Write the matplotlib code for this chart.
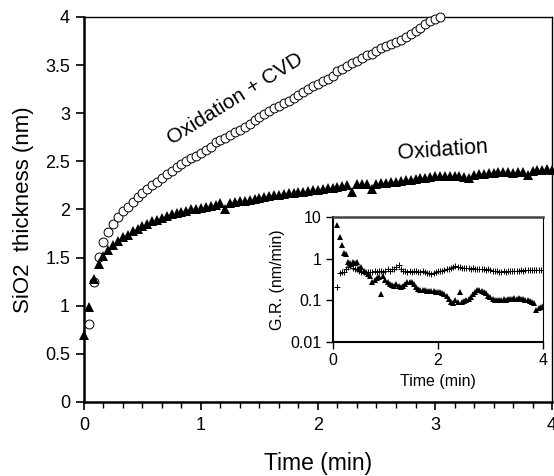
"""SiO2 thickness vs time: oxidation and oxidation + CVD, with growth-rate inset."""

import matplotlib
matplotlib.use('Agg')

import matplotlib.pyplot as plt
import matplotlib.ticker as ticker
import numpy as np

plt.rcParams['font.family'] = ['Liberation Sans', 'DejaVu Sans']

# ── Data (one sample every 2.5 s) ────────────────────────────────────────────
SAMPLE_S = 2.5

OXIDATION_NM = [
    0.70, 0.99, 1.28, 1.43, 1.52, 1.58, 1.63, 1.67, 1.71, 1.74,
    1.78, 1.80, 1.83, 1.85, 1.88, 1.89, 1.91, 1.93, 1.95, 1.96,
    1.97, 1.98, 2.00, 2.01, 2.02, 2.03, 2.04, 2.05, 2.07, 2.01,
    2.07, 2.08, 2.09, 2.09, 2.10, 2.11, 2.12, 2.13, 2.14, 2.15,
    2.15, 2.16, 2.17, 2.17, 2.18, 2.18, 2.19, 2.20, 2.20, 2.21,
    2.22, 2.22, 2.23, 2.24, 2.25, 2.18, 2.27, 2.27, 2.26, 2.21,
    2.27, 2.28, 2.28, 2.29, 2.29, 2.30, 2.31, 2.31, 2.32, 2.33,
    2.33, 2.34, 2.35, 2.35, 2.35, 2.35, 2.35, 2.35, 2.34, 2.33,
    2.36, 2.37, 2.37, 2.38, 2.38, 2.39, 2.39, 2.39, 2.38, 2.39,
    2.39, 2.36, 2.40, 2.41, 2.41, 2.42, 2.41,
]

# starts one sample later than the oxidation run
OXCVD_NM = [
    0.81, 1.25, 1.51, 1.66, 1.77, 1.85, 1.92, 1.98, 2.03, 2.08,
    2.13, 2.17, 2.21, 2.25, 2.29, 2.33, 2.37, 2.40, 2.44, 2.47,
    2.50, 2.53, 2.56, 2.59, 2.62, 2.65, 2.70, 2.72, 2.74, 2.77,
    2.80, 2.83, 2.86, 2.89, 2.93, 2.96, 2.99, 3.02, 3.05, 3.08,
    3.11, 3.13, 3.16, 3.19, 3.22, 3.25, 3.28, 3.30, 3.33, 3.36,
    3.39, 3.44, 3.46, 3.49, 3.52, 3.54, 3.57, 3.60, 3.62, 3.65,
    3.68, 3.70, 3.72, 3.74, 3.76, 3.79, 3.82, 3.85, 3.89, 3.93,
    3.96, 3.98, 4.00,
]

# growth rates (nm/min), starting at the third sample
GR_OXIDATION = [
    6.4, 3.3, 2.1, 1.4, 1.3, 0.85, 0.80, 0.85, 0.80, 0.82,
    0.60, 0.62, 0.50, 0.47, 0.42, 0.38, 0.28, 0.30, 0.34, 0.36,
    0.14, 0.38, 0.30, 0.27, 0.25, 0.23, 0.22, 0.24, 0.22, 0.21,
    0.22, 0.25, 0.27, 0.28, 0.27, 0.24, 0.21, 0.19, 0.18, 0.18,
    0.175, 0.17, 0.17, 0.165, 0.165, 0.16, 0.16, 0.155, 0.15, 0.14,
    0.13, 0.11, 0.09, 0.085, 0.10, 0.09, 0.16, 0.09, 0.095, 0.10,
    0.11, 0.12, 0.14, 0.16, 0.18, 0.18, 0.17, 0.16, 0.15, 0.13,
    0.12, 0.11, 0.10, 0.10, 0.10, 0.10, 0.105, 0.10, 0.105, 0.11,
    0.11, 0.115, 0.11, 0.115, 0.11, 0.105, 0.10, 0.10, 0.095, 0.09,
    0.085, 0.06, 0.065, 0.07, 0.075,
]

GR_OXCVD = [
    0.21, 0.46, 0.47, 0.48, 0.55, 0.62, 0.66, 0.60, 0.56, 0.55,
    0.52, 0.48, 0.47, 0.46, 0.47, 0.48, 0.47, 0.50, 0.47, 0.50,
    0.52, 0.48, 0.52, 0.55, 0.50, 0.58, 0.55, 0.62, 0.70, 0.55,
    0.52, 0.50, 0.49, 0.50, 0.48, 0.50, 0.52, 0.49, 0.47, 0.50,
    0.48, 0.46, 0.45, 0.44, 0.46, 0.48, 0.50, 0.52, 0.52, 0.54,
    0.55, 0.57, 0.60, 0.62, 0.65, 0.63, 0.62, 0.60, 0.59, 0.61,
    0.60, 0.58, 0.59, 0.58, 0.57, 0.58, 0.56, 0.55, 0.54, 0.55,
    0.53, 0.52, 0.50, 0.50, 0.49, 0.49, 0.50, 0.49, 0.50, 0.51,
    0.50, 0.52, 0.51, 0.52, 0.53, 0.52, 0.53, 0.54, 0.53, 0.54,
    0.53, 0.54, 0.53, 0.54, 0.53,
]


def main() -> None:
    t_min = np.arange(len(OXIDATION_NM)) * SAMPLE_S / 60.0
    t_cvd = t_min[1:1 + len(OXCVD_NM)]
    t_gr = t_min[2:2 + len(GR_OXIDATION)]

    fig = plt.figure(figsize=(5.54, 4.76), dpi=100)
    ax = fig.add_axes([0.1516, 0.1555, 0.8448, 0.8088])

    # ── Main curves ──────────────────────────────────────────────────────────
    ax.plot(t_cvd, OXCVD_NM, linestyle='none', marker='o', markersize=6.4,
            markerfacecolor='white', markeredgecolor='black',
            markeredgewidth=0.7, zorder=3, clip_on=False)
    ax.plot(t_min, OXIDATION_NM, linestyle='none', marker='^', markersize=6.6,
            color='black', markeredgewidth=0, zorder=4, clip_on=False)

    ax.text(1.29, 3.15, 'Oxidation + CVD', rotation=32, fontsize=15,
            ha='center', va='center')
    ax.text(3.07, 2.61, 'Oxidation', rotation=4, fontsize=15.5,
            ha='center', va='center')

    ax.set_xlim(0, 4)
    ax.set_ylim(0, 4)
    ax.xaxis.set_major_locator(ticker.MultipleLocator(1))
    ax.xaxis.set_minor_locator(ticker.MultipleLocator(1 / 6))
    ax.yaxis.set_major_locator(ticker.MultipleLocator(0.5))
    ax.yaxis.set_major_formatter(ticker.FormatStrFormatter('%g'))
    ax.tick_params(which='major', direction='out', length=6, width=1.2,
                   labelsize=13)
    ax.tick_params(which='minor', direction='out', length=4, width=1.0)
    ax.tick_params(axis='x', which='major', pad=5)
    ax.tick_params(axis='y', pad=4)

    ax.spines['left'].set_linewidth(1.8)
    ax.spines['bottom'].set_linewidth(1.8)
    ax.spines['top'].set_linewidth(1.0)
    ax.spines['right'].set_linewidth(1.0)

    ax.set_xlabel('Time (min)', fontsize=16.5, labelpad=13)
    ax.set_ylabel('SiO2  thickness (nm)', fontsize=16, labelpad=8)

    # ── Inset: growth rate ───────────────────────────────────────────────────
    ins = fig.add_axes([0.601, 0.2815, 0.379, 0.2626])
    ins.plot(t_gr, GR_OXCVD, linestyle='none', marker='+', markersize=5,
             color='black', markeredgewidth=0.7, zorder=3)
    ins.plot(t_gr, GR_OXIDATION, linestyle='none', marker='^', markersize=4.9,
             color='black', markeredgewidth=0, zorder=4)
    ins.set_yscale('log')
    ins.set_xlim(0, 4)
    ins.set_ylim(0.01, 10)
    ins.set_xticks([0, 2, 4])
    ins.set_yticks([0.01, 0.1, 1, 10])
    ins.set_yticklabels(['0.01', '0.1', '1', '10'])
    ins.yaxis.set_minor_locator(ticker.NullLocator())
    ins.tick_params(direction='out', length=5, width=1.0, labelsize=11.5,
                    pad=3)
    ins.spines['top'].set_color('#444444')
    ins.spines['top'].set_linewidth(1.8)
    ins.spines['left'].set_linewidth(1.5)
    ins.spines['bottom'].set_linewidth(1.5)
    ins.spines['right'].set_linewidth(0.8)
    ins.set_xlabel('Time (min)', fontsize=11.5, labelpad=4)
    ins.set_ylabel('G.R. (nm/min)', fontsize=11.5, labelpad=4)

    fig.savefig('out.png', dpi=100, facecolor='white')
    plt.close(fig)


if __name__ == '__main__':
    main()
